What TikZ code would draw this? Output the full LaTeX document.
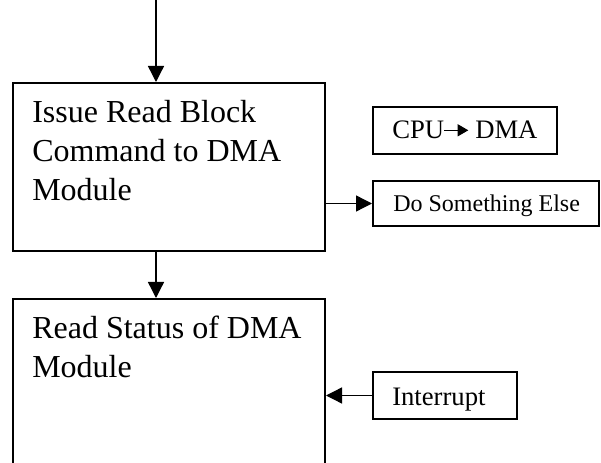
\documentclass[tikz,border=0pt]{standalone}
\usepackage{fontspec}
\setmainfont{Liberation Serif}
\usetikzlibrary{arrows.meta}
\begin{document}
\begin{tikzpicture}[x=0.75pt,y=-0.75pt,
  box/.style={draw, line width=1.5pt, inner sep=0pt, anchor=north west},
  link/.style={line width=1pt, -{Triangle[length=12pt,width=12pt]}},
  bigtext/.style={font=\fontsize{24}{29.25}\selectfont, anchor=base west, inner sep=0pt, align=left},
  midtext/.style={font=\fontsize{20}{24}\selectfont, anchor=base west, inner sep=0pt},
  smalltext/.style={font=\fontsize{18}{21}\selectfont, anchor=base west, inner sep=0pt}]
\useasboundingbox (0,0) rectangle (601,463);
% boxes
\node[box, minimum width=234pt, minimum height=126pt] (b1) at (12,82) {};
\node[box, minimum width=234pt, minimum height=135pt] (b2) at (12,298) {};
\node[box, minimum width=138pt, minimum height=35.25pt] (cpubox) at (372,106) {};
\node[box, minimum width=169.5pt, minimum height=33.75pt] (dse) at (372,180) {};
\node[box, minimum width=108pt, minimum height=35.25pt] (intr) at (372,371) {};
% texts (anchor = baseline of the last line)
\node[bigtext] (t1) at (32,201) {Issue Read Block\\Command to DMA\\Module};
\node[bigtext] (t2) at (32,378) {Read Status of DMA\\Module};
\node[midtext] (cpu) at (392,139) {CPU};
\node[midtext] (dma) at (475,139) {DMA};
\node[smalltext] (dsetext) at (393,212) {Do Something Else};
\node[midtext] (inttext) at (392,406) {Interrupt};
% connectors
\coordinate (top) at (156,0);
\draw[link] (top) -- (top |- b1.north);
\draw[link] (top |- b1.south) -- (top |- b2.north);
\draw[link] (b1.east |- dse.west) -- (dse.west);
\draw[link] (intr.west) -- (b2.east |- intr.west);
\draw[line width=1pt, -{Triangle[length=8pt,width=9pt]}, shorten >=5pt] (cpu.east) -- (dma.west |- cpu.east);
\end{tikzpicture}
\end{document}
